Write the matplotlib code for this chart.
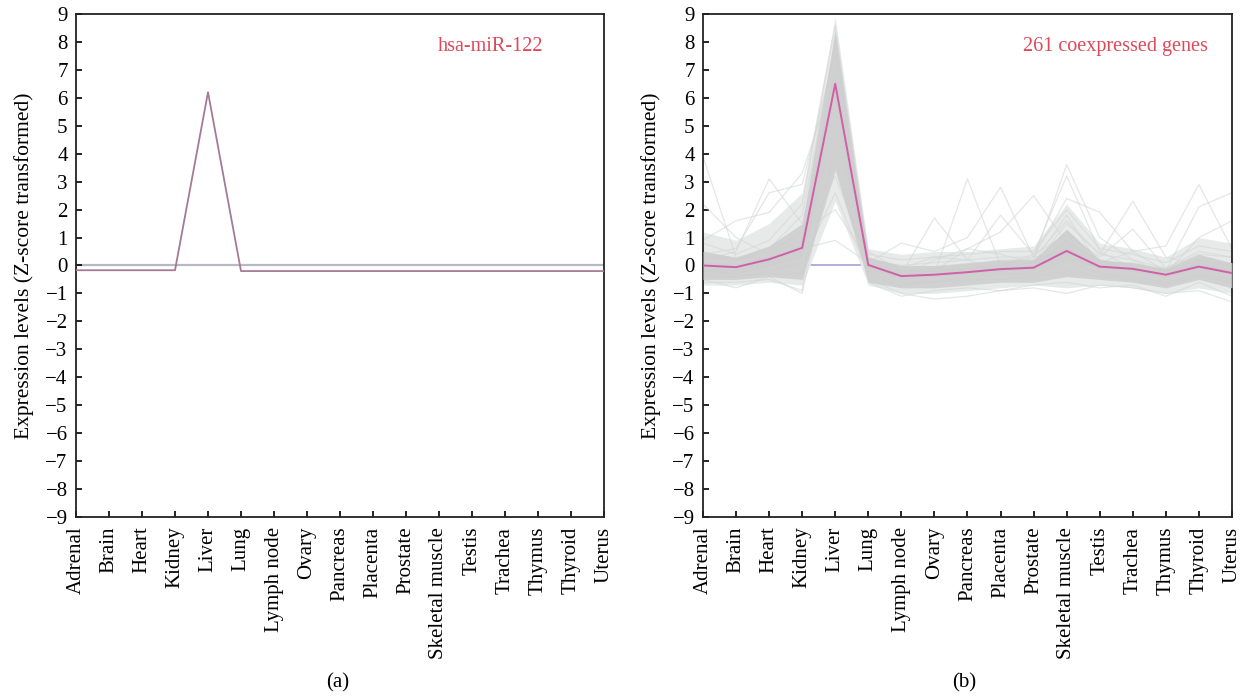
import matplotlib
matplotlib.use("Agg")
import matplotlib.pyplot as plt
import numpy as np

plt.rcParams['font.family'] = ['Liberation Serif', 'DejaVu Serif']

tissues = ["Adrenal", "Brain", "Heart", "Kidney", "Liver", "Lung", "Lymph node",
           "Ovary", "Pancreas", "Placenta", "Prostate", "Skeletal muscle",
           "Testis", "Trachea", "Thymus", "Thyroid", "Uterus"]

mir122 = [-0.17, -0.17, -0.17, -0.17, 6.2, -0.2, -0.2, -0.2, -0.2, -0.2,
          -0.2, -0.2, -0.2, -0.2, -0.2, -0.2, -0.2]

mean_profile = [0.0, -0.06, 0.22, 0.63, 6.5, 0.02, -0.38, -0.33, -0.24, -0.13,
                -0.08, 0.52, -0.04, -0.12, -0.33, -0.04, -0.27]

# envelope of the 261 gene profiles (outer light band, inner dense band)
outer_upper = [1.2, 0.9, 1.5, 2.6, 8.9, 0.6, 0.4, 0.5, 0.5, 0.6, 0.7, 2.2, 0.8, 0.6, 0.3, 1.0, 0.8]
outer_lower = [-0.7, -0.7, -0.6, -0.7, 2.3, -0.7, -1.0, -1.0, -0.9, -0.8, -0.7, -0.8, -0.7, -0.8, -1.0, -0.8, -1.0]
inner_upper = [0.5, 0.3, 0.7, 1.5, 8.4, 0.3, 0.0, 0.0, 0.1, 0.2, 0.2, 1.3, 0.2, 0.1, -0.1, 0.4, 0.1]
inner_lower = [-0.5, -0.5, -0.4, -0.5, 3.4, -0.6, -0.8, -0.8, -0.7, -0.6, -0.6, -0.4, -0.5, -0.6, -0.8, -0.5, -0.8]

# individual outlying gene profiles
gene_profiles = [
    [3.9, 0.3, 0.2, 0.5, 5.0, -0.2, -0.4, -0.3, -0.2, -0.1, 0.0, 0.3, -0.1, -0.2, -0.4, 0.0, -0.3],
    [2.2, 1.0, 0.4, 0.9, 6.2, 0.1, -0.3, -0.2, -0.1, 0.0, 0.1, 0.6, 0.0, -0.1, -0.3, 0.1, -0.2],
    [0.2, 0.5, 3.1, 1.5, 6.0, 0.0, -0.5, -0.4, -0.3, -0.2, -0.1, 0.6, 0.0, -0.2, -0.4, -0.1, -0.3],
    [0.4, 0.6, 2.6, 2.9, 7.6, 0.2, -0.4, -0.3, -0.3, -0.2, 0.0, 0.9, 0.1, -0.1, -0.3, 0.1, -0.2],
    [0.9, 1.6, 1.9, 3.3, 6.8, 0.5, -0.2, -0.2, -0.1, 0.0, 0.1, 1.2, 0.2, 0.0, -0.2, 0.2, -0.1],
    [-0.2, -0.3, 0.0, 0.8, 7.0, 0.3, -0.3, 1.7, 0.2, -0.2, -0.1, 0.4, -0.1, -0.1, -0.3, 0.0, -0.3],
    [0.0, -0.2, 0.1, 0.4, 5.5, 0.0, -0.4, -0.3, 3.1, 0.0, -0.2, 0.3, -0.1, -0.1, -0.3, 0.1, -0.2],
    [-0.1, -0.2, 0.2, 0.5, 4.6, 0.1, 0.8, 0.5, 1.0, 2.8, 0.3, 0.5, 0.0, -0.1, -0.3, 0.0, -0.2],
    [-0.1, -0.3, 0.0, 0.3, 6.1, -0.1, -0.4, 0.2, 0.6, 1.2, 2.5, 0.8, 0.2, -0.2, -0.4, -0.1, -0.3],
    [0.1, -0.1, 0.2, 0.6, 5.8, 0.0, -0.3, -0.3, -0.2, 0.0, 0.4, 3.2, 0.5, -0.1, -0.3, 0.0, -0.2],
    [0.0, -0.2, 0.1, 0.5, 4.0, -0.1, -0.4, -0.3, -0.1, 0.1, 0.2, 3.6, 1.0, 0.2, -0.3, 0.1, -0.2],
    [-0.1, -0.2, 0.1, 0.4, 6.6, 0.0, -0.3, -0.2, -0.1, 0.0, 0.3, 2.4, 1.9, 0.5, -0.2, 0.0, -0.2],
    [-0.2, -0.3, 0.0, 0.3, 5.2, -0.1, -0.4, -0.3, -0.2, -0.1, 0.0, 1.5, 0.4, 2.3, 0.3, 0.0, -0.3],
    [-0.1, -0.2, 0.1, 0.4, 7.2, 0.0, -0.3, -0.3, -0.2, -0.1, 0.0, 0.8, 0.1, 0.5, 0.7, 2.9, 0.6],
    [-0.2, -0.3, 0.0, 0.3, 6.4, -0.1, -0.4, -0.3, -0.2, -0.1, 0.0, 0.7, 0.0, 0.1, -0.2, 2.1, 2.6],
    [0.0, -0.1, 0.3, 0.7, 3.2, 0.1, -0.2, -0.2, 0.6, 0.4, 0.1, 1.8, 0.0, -0.1, -0.3, 1.0, 1.6],
    [0.3, 0.2, 0.5, 1.2, 2.0, 0.2, -0.1, 0.3, 0.2, 1.8, 0.4, 1.1, 0.3, 1.3, -0.1, 0.4, 0.3],
    [0.1, 0.0, 0.3, 0.6, 0.9, 0.1, -0.2, -0.1, 0.0, 0.2, 0.2, 0.6, 0.1, 0.0, -0.2, 0.2, 0.0],
    [-0.5, -0.8, -0.4, -1.0, 4.4, -0.5, -1.0, -1.2, -1.1, -0.9, -0.8, -1.0, -0.7, -0.8, -1.0, -0.9, -1.3],
    [-0.6, -0.6, -0.5, -0.9, 8.2, -0.6, -1.1, -0.9, -0.8, -0.9, -0.7, -0.6, -0.8, -0.7, -1.1, -0.6, -1.1],
    [0.8, 0.4, 0.9, 2.2, 8.6, 0.4, 0.2, 0.3, 0.4, 0.5, 0.5, 2.0, 0.6, 0.4, 0.1, 0.7, 0.5],
    [0.5, 0.2, 0.6, 1.8, 7.9, 0.2, 0.0, 0.1, 0.2, 0.3, 0.3, 1.6, 0.4, 0.2, -0.1, 0.5, 0.3],
    [-0.4, -0.4, -0.3, -0.3, 3.8, -0.4, -0.7, -0.6, -0.5, -0.5, -0.4, -0.2, -0.4, -0.5, -0.7, -0.4, -0.6],
    [-0.3, -0.4, -0.2, 0.1, 2.6, -0.3, -0.6, -0.6, -0.4, -0.3, -0.3, 0.2, -0.3, -0.4, -0.6, -0.3, -0.5],
]

ylabel = "Expression levels (Z-score transformed)"
x = np.arange(len(tissues))

fig = plt.figure(figsize=(12.42, 6.98), dpi=100)
ax_a = fig.add_axes([0.0612, 0.2593, 0.4251, 0.7207])
ax_b = fig.add_axes([0.5660, 0.2593, 0.4259, 0.7207])

for ax in (ax_a, ax_b):
    ax.set_xlim(0, len(tissues) - 1)
    ax.set_ylim(-9, 9)
    ax.set_yticks(np.arange(-9, 10, 1))
    ax.set_yticklabels([str(v).replace('-', '\u2212') for v in range(-9, 10)])
    ax.set_xticks(x)
    ax.set_xticklabels(tissues, rotation=90)
    ax.tick_params(axis='both', direction='in', length=4, width=1.2, labelsize=15,
                   top=False, right=False)
    ax.tick_params(axis='x', pad=7)
    ax.tick_params(axis='y', pad=6)
    for s in ax.spines.values():
        s.set_linewidth(1.3)
        s.set_color('#222222')
    ax.set_ylabel(ylabel, fontsize=15.5, labelpad=8)

# Panel (a)
ax_a.axhline(0, color='#b8b8c0', lw=1.6, zorder=1)
ax_a.plot(x, mir122, color='#a57a98', lw=1.3, zorder=3)
ax_a.text(0.885, 0.935, "hsa-miR-122", transform=ax_a.transAxes, color='#e0485a',
          fontsize=14.5, ha='right', va='center')

# Panel (b)
ax_b.axhline(0, color='#a8a8d8', lw=1.3, zorder=1)
ax_b.fill_between(x, outer_lower, outer_upper, color='#e8eaea', lw=0, zorder=2)
for prof in gene_profiles:
    ax_b.plot(x, prof, color='#d4d6d7', lw=0.9, alpha=0.6, zorder=2.5)
ax_b.fill_between(x, inner_lower, inner_upper, color='#cdcdcd', alpha=0.85, lw=0, zorder=3)
ax_b.plot(x, mean_profile, color='#d05fa8', lw=1.4, zorder=4)
ax_b.text(0.955, 0.935, "261 coexpressed genes", transform=ax_b.transAxes, color='#e0485a',
          fontsize=14.5, ha='right', va='center')

fig.text(0.2715, 0.021, "(a)", ha='center', va='center', fontsize=15)
fig.text(0.7765, 0.021, "(b)", ha='center', va='center', fontsize=15)

fig.savefig("out.png", dpi=100, facecolor='white')
